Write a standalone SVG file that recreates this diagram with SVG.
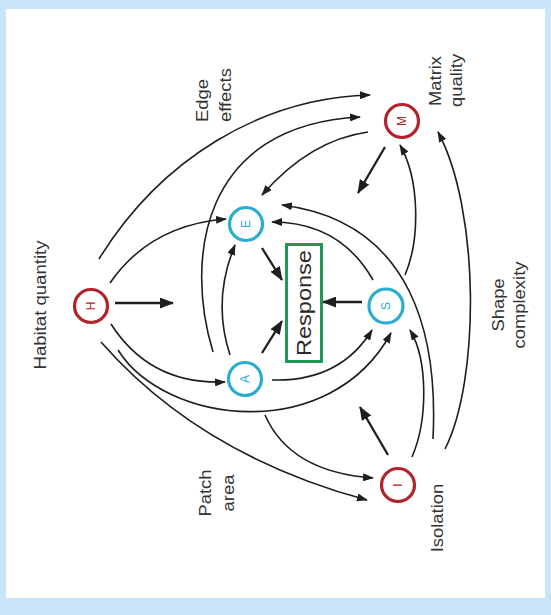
<svg xmlns="http://www.w3.org/2000/svg" width="551" height="615" viewBox="0 0 551 615">
<style>
.bg{fill:#c9e6f8}
.panel{fill:#ffffff}
.c{fill:none;stroke:#1e1e1e;stroke-width:1.6}
.s{fill:none;stroke:#1e1e1e;stroke-width:2.3}
.red{fill:#fff;stroke:#b3232c;stroke-width:3.2}
.cyan{fill:#fff;stroke:#2aaed0;stroke-width:3.2}
.lr{fill:#b3232c}
.lc{fill:#2aaed0}
.nl{font-family:"Liberation Sans",Arial,sans-serif;font-size:12px;text-anchor:middle;dominant-baseline:central}
.lab{font-family:"Liberation Sans",Arial,sans-serif;font-size:16px;fill:#333333;dominant-baseline:central}
.resp{font-family:"Liberation Sans",Arial,sans-serif;font-size:21px;fill:#2a2a2a;text-anchor:middle;dominant-baseline:central}
.box{fill:none;stroke:#1f9a55;stroke-width:3}
</style>
<defs>
<marker id="ah" markerUnits="userSpaceOnUse" markerWidth="11" markerHeight="8" refX="10" refY="4" orient="auto">
<path d="M0,0 L11,4 L0,8 z" fill="#1e1e1e"/>
</marker>
<marker id="ahb" markerUnits="userSpaceOnUse" markerWidth="14" markerHeight="11" refX="13" refY="5.5" orient="auto">
<path d="M0,0 L14,5.5 L0,11 z" fill="#1e1e1e"/>
</marker>
</defs>
<rect class="bg" x="0" y="0" width="551" height="615"/>
<rect class="panel" x="6" y="9" width="539" height="589"/>

<g id="labels">
<text class="lab" text-anchor="middle" transform="translate(40 305) rotate(-90) scale(1.16 1)">Habitat quantity</text>
<text class="lab" text-anchor="start" transform="translate(202 122) rotate(-90) scale(1.15 1)">Edge</text>
<text class="lab" text-anchor="start" transform="translate(225 122) rotate(-90) scale(1.15 1)">effects</text>
<text class="lab" text-anchor="start" transform="translate(435 106) rotate(-90) scale(1.15 1)">Matrix</text>
<text class="lab" text-anchor="start" transform="translate(456 107) rotate(-90) scale(1.15 1)">quality</text>
<text class="lab" text-anchor="middle" transform="translate(498 305) rotate(-90) scale(1.15 1)">Shape</text>
<text class="lab" text-anchor="middle" transform="translate(519 305) rotate(-90) scale(1.15 1)">complexity</text>
<text class="lab" text-anchor="middle" transform="translate(205 493) rotate(-90) scale(1.15 1)">Patch</text>
<text class="lab" text-anchor="middle" transform="translate(228 493) rotate(-90) scale(1.15 1)">area</text>
<text class="lab" text-anchor="middle" transform="translate(437 518) rotate(-90) scale(1.15 1)">Isolation</text>
</g>

<g id="connectors">
<path class="c" d="M99,259 C160,160 260,98 370,95" marker-end="url(#ah)"/>
<path class="c" d="M110,283 Q150,225 226,219" marker-end="url(#ah)"/>
<path class="c" d="M111,324 Q150,385 225,382" marker-end="url(#ah)"/>
<path class="c" d="M118,350 C165,425 330,445 391,333" marker-end="url(#ah)"/>
<path class="c" d="M101,342 Q200,455 367,500" marker-end="url(#ah)"/>
<path class="c" d="M272,380 Q340,382 372,330" marker-end="url(#ah)"/>
<path class="c" d="M265,415 Q290,472 373,478" marker-end="url(#ah)"/>
<path class="c" d="M230,355 Q212,300 235,245" marker-end="url(#ah)"/>
<path class="c" d="M213,352 C185,260 200,125 360,117" marker-end="url(#ah)"/>
<path class="c" d="M412,457 C428,420 428,360 410,330" marker-end="url(#ah)"/>
<path class="c" d="M433,439 C438,340 415,222 282,205" marker-end="url(#ah)"/>
<path class="c" d="M445,449 C480,380 480,210 438,132" marker-end="url(#ah)"/>
<path class="c" d="M405,275 C420,240 420,180 400,145" marker-end="url(#ah)"/>
<path class="c" d="M368,132 Q310,140 262,195" marker-end="url(#ah)"/>
<path class="c" d="M373,280 Q340,222 272,222" marker-end="url(#ah)"/>
<line class="s" x1="115" y1="303" x2="173" y2="303" marker-end="url(#ahb)"/>
<line class="s" x1="262" y1="353" x2="282" y2="321" marker-end="url(#ahb)"/>
<line class="s" x1="262" y1="248" x2="282" y2="280" marker-end="url(#ahb)"/>
<line class="s" x1="362" y1="302" x2="323" y2="302" marker-end="url(#ahb)"/>
<line class="s" x1="385" y1="147" x2="358" y2="193" marker-end="url(#ahb)"/>
<line class="s" x1="388" y1="455" x2="360" y2="407" marker-end="url(#ahb)"/>
</g>

<g id="response">
<rect class="box" x="286.5" y="244.5" width="35" height="117"/>
<text class="resp" transform="translate(304 303) rotate(-90) scale(1.12 1)">Response</text>
</g>

<g id="node-H">
<circle class="red" cx="91" cy="306" r="16.5"/>
<text class="nl lr" transform="translate(91 306) rotate(-90)">H</text>
</g>
<g id="node-E">
<circle class="cyan" cx="246" cy="224" r="16.5"/>
<text class="nl lc" transform="translate(246 224) rotate(-90)">E</text>
</g>
<g id="node-A">
<circle class="cyan" cx="245" cy="379" r="16.5"/>
<text class="nl lc" transform="translate(245 379) rotate(-90)">A</text>
</g>
<g id="node-S">
<circle class="cyan" cx="386" cy="306" r="17"/>
<text class="nl lc" transform="translate(386 306) rotate(-90)">S</text>
</g>
<g id="node-M">
<circle class="red" cx="402" cy="121" r="16.5"/>
<text class="nl lr" transform="translate(402 121) rotate(-90)">M</text>
</g>
<g id="node-I">
<circle class="red" cx="398" cy="485" r="16.5"/>
<text class="nl lr" transform="translate(398 485) rotate(-90)">I</text>
</g>
</svg>
